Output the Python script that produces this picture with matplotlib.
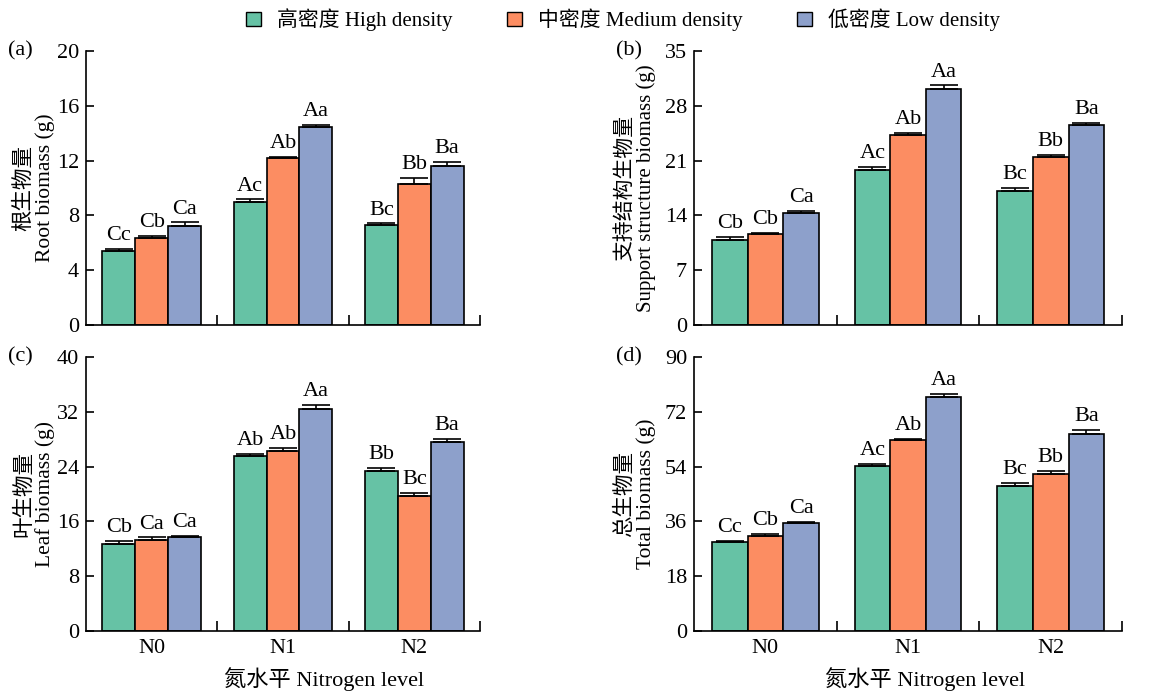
import matplotlib
matplotlib.use('Agg')
import matplotlib.pyplot as plt
import numpy as np
from matplotlib.patches import Patch

plt.rcParams['font.family'] = ['Liberation Serif', 'Noto Sans CJK SC']
plt.rcParams['font.size'] = 16

groups = ['N0', 'N1', 'N2']
densities = ['高密度 High density', '中密度 Medium density', '低密度 Low density']
colors = ['#66c2a5', '#fc8d62', '#8da0cb']

# rows: high, medium, low density; columns: N0, N1, N2
root_mean = [[5.43, 8.95, 7.30], [6.33, 12.21, 10.32], [7.25, 14.43, 11.63]]
root_err = [[0.12, 0.22, 0.12], [0.20, 0.06, 0.39], [0.24, 0.17, 0.29]]
root_sig = [['Cc', 'Ac', 'Bc'], ['Cb', 'Ab', 'Bb'], ['Ca', 'Aa', 'Ba']]

support_mean = [[10.9, 19.8, 17.16], [11.58, 24.27, 21.41], [14.35, 30.1, 25.5]]
support_err = [[0.30, 0.34, 0.30], [0.13, 0.26, 0.30], [0.17, 0.51, 0.34]]
support_sig = [['Cb', 'Ac', 'Bc'], ['Cb', 'Ab', 'Bb'], ['Ca', 'Aa', 'Ba']]

leaf_mean = [[12.73, 25.51, 23.37], [13.31, 26.29, 19.78], [13.75, 32.41, 27.65]]
leaf_err = [[0.39, 0.29, 0.49], [0.34, 0.39, 0.34], [0.15, 0.58, 0.39]]
leaf_sig = [['Cb', 'Ab', 'Bb'], ['Ca', 'Ab', 'Bc'], ['Ca', 'Aa', 'Ba']]

total_mean = [[29.2, 54.24, 47.79], [31.28, 62.66, 51.51], [35.32, 76.88, 64.74]]
total_err = [[0.44, 0.66, 0.87], [0.55, 0.55, 1.09], [0.44, 1.09, 1.2]]
total_sig = [['Cc', 'Ac', 'Bc'], ['Cb', 'Ab', 'Bb'], ['Ca', 'Aa', 'Ba']]

panels = [
    ('(a)', '根生物量\nRoot biomass (g)', root_mean, root_err, root_sig, 20, 4),
    ('(b)', '支持结构生物量\nSupport structure biomass (g)', support_mean, support_err, support_sig, 35, 7),
    ('(c)', '叶生物量\nLeaf biomass (g)', leaf_mean, leaf_err, leaf_sig, 40, 8),
    ('(d)', '总生物量\nTotal biomass (g)', total_mean, total_err, total_sig, 90, 18),
]

W, H = 1152, 693
fig = plt.figure(figsize=(W / 100, H / 100), dpi=100)

# axes boxes in pixels: left, right, top, bottom, ylabel offset, xlabel centre
boxes = [(86, 480, 51, 325, 31, None), (694, 1122, 51, 325, 38, None),
         (86, 480, 357, 631, 31, 324), (694, 1122, 357, 631, 38, 925)]

bw = 0.25
x = np.arange(len(groups)) + 0.5
for i, (tag, ylab, mean, err, sig, ymax, step) in enumerate(panels):
    l, r, t, b, off, xc = boxes[i]
    ax = fig.add_axes([l / W, (H - b) / H, (r - l) / W, (b - t) / H])
    for j in range(3):
        xs = x + (j - 1) * bw
        ax.bar(xs, mean[j], bw, color=colors[j], edgecolor='black', linewidth=1.2, zorder=2)
        ax.errorbar(xs, mean[j], yerr=[np.zeros(3), err[j]], fmt='none', ecolor='black',
                    elinewidth=1.2, capsize=10, capthick=1.2, zorder=3)
        for k in range(3):
            ax.text(xs[k], mean[j][k] + err[j][k] + ymax * 0.014, sig[j][k],
                    ha='center', va='bottom', fontsize=16)
    ax.set_xlim(0, 3)
    ax.set_ylim(0, ymax)
    ax.set_yticks(np.arange(0, ymax + 0.1, step))
    ax.set_xticks([1, 2, 3])
    ax.set_xticklabels([])
    ax.set_xticks(x, minor=True)
    ax.set_xticklabels(groups if i >= 2 else [], minor=True)
    ax.tick_params(axis='x', which='minor', length=0, pad=6, labelsize=16)
    ax.tick_params(axis='x', which='major', direction='in', length=7, width=1.2)
    ax.tick_params(axis='y', direction='in', length=6, width=1.2, labelsize=16, pad=5)
    ax.spines['top'].set_visible(False)
    ax.spines['right'].set_visible(False)
    ax.spines['left'].set_linewidth(1.2)
    ax.spines['bottom'].set_linewidth(1.2)
    ax.set_ylabel(ylab, fontsize=15.5 if i != 1 else 15, linespacing=1.05)
    ax.yaxis.set_label_coords(-off / (r - l), 0.5)
    ax.text(l / W - 78 / W, (H - t) / H, tag, transform=fig.transFigure,
            ha='left', va='center', fontsize=16)
    if xc is not None:
        ax.set_xlabel('氮水平 Nitrogen level', fontsize=16)
        ax.xaxis.set_label_coords((xc - l) / (r - l), -36 / (b - t))

handles = [Patch(facecolor=c, edgecolor='black', linewidth=1) for c in colors]
fig.legend(handles, densities, loc='upper center', bbox_to_anchor=(0.541, 1.015), ncol=3,
           frameon=False, fontsize=15, handlelength=0.7, handleheight=0.7,
           columnspacing=2.6, handletextpad=0.8)

fig.savefig('out.png', dpi=100)
